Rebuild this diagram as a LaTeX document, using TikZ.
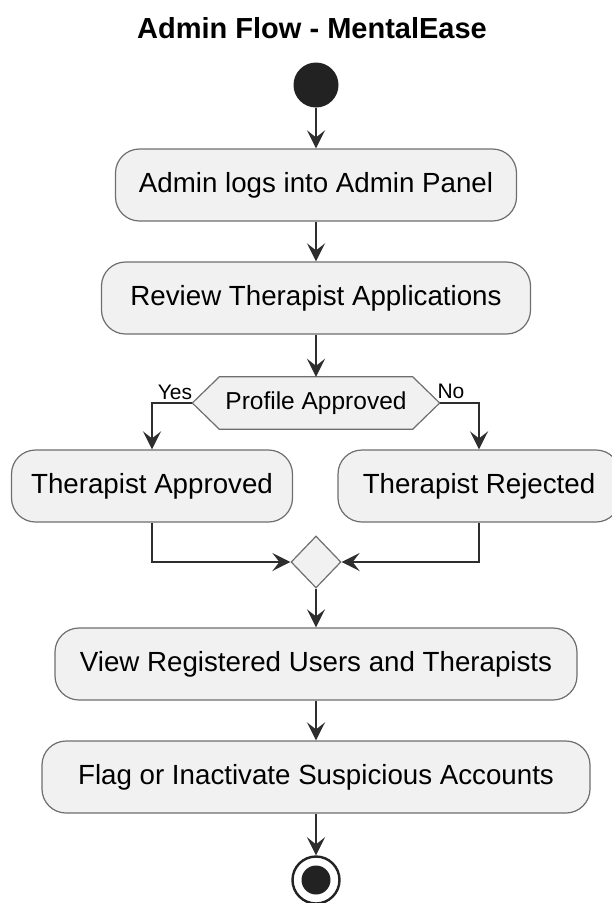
\documentclass[tikz,border=0pt]{standalone}
\usepackage{fontspec}
\setmainfont{Liberation Sans}
\usetikzlibrary{arrows.meta,shapes.geometric,calc,backgrounds}

\definecolor{boxfill}{HTML}{F1F1F1}
\definecolor{boxline}{HTML}{6E6E6E}
\definecolor{flowline}{HTML}{2E2E2E}
\definecolor{dark}{HTML}{222222}

\begin{document}
\begin{tikzpicture}[x=1pt,y=-1pt,
  act/.style={draw=boxline, line width=1.2pt, fill=boxfill, rounded corners=24pt,
    minimum height=72pt, inner sep=0pt, font=\fontsize{27.7}{32}\selectfont},
  flow/.style={draw=flowline, line width=2.4pt,
    -{Stealth[length=18pt,width=18pt,inset=7pt]}},
  lbl/.style={font=\fontsize{21}{24}\selectfont, inner sep=0pt},
  hexbox/.style={draw=boxline, line width=1.2pt, fill=boxfill}
]
\useasboundingbox (0,0) rectangle (612,903);

% title
\node[font=\bfseries\fontsize{29}{34}\selectfont] (title) at (312,28) {Admin Flow - MentalEase};

% start
\node[circle, fill=dark, minimum size=45pt, inner sep=0pt] (start) at (316,85) {};

% activities
\node[act, minimum width=401pt] (a1) at (316,185) {Admin logs into Admin Panel};
\node[act, minimum width=429pt] (a2) at (316,298) {Review Therapist Applications};

% decision
\node[minimum width=247pt, minimum height=52pt, inner sep=0pt,
      font=\fontsize{24.5}{28}\selectfont] (dec) at (316,403) {Profile Approved};
\begin{scope}[on background layer]
  \draw[hexbox] (dec.west) -- ($(dec.north west)+(27,0)$) -- ($(dec.north east)+(-27,0)$)
    -- (dec.east) -- ($(dec.south east)+(-27,0)$) -- ($(dec.south west)+(27,0)$) -- cycle;
\end{scope}

\node[act, minimum width=281pt] (yes) at (152,486) {Therapist Approved};
\node[act, minimum width=282pt] (no) at (479,486) {Therapist Rejected};

\node[lbl] (ylab) at (175,392) {Yes};
\node[lbl] (nlab) at (451,391) {No};

% merge
\node[diamond, draw=boxline, line width=1.2pt, fill=boxfill, inner sep=0pt,
      minimum width=50pt, minimum height=52pt] (merge) at (316,562) {};

\node[act, minimum width=522pt] (a5) at (316,664) {View Registered Users and Therapists};
\node[act, minimum width=548pt] (a6) at (316,777) {Flag or Inactivate Suspicious Accounts};

% end
\node[circle, draw=dark, line width=2.4pt, fill=white, minimum size=47pt, inner sep=0pt] (stop) at (316,880) {};
\node[circle, fill=dark, minimum size=29pt, inner sep=0pt] (stopdot) at (stop) {};

% connectors
\draw[flow] (start) -- (a1);
\draw[flow] (a1) -- (a2);
\draw[flow] (a2) -- (dec.north);
\draw[flow] (dec.west) -| (yes);
\draw[flow] (dec.east) -| (no);
\draw[flow] (yes) |- (merge);
\draw[flow] (no) |- (merge);
\draw[flow] (merge) -- (a5);
\draw[flow] (a5) -- (a6);
\draw[flow] (a6) -- (stop);
\end{tikzpicture}
\end{document}
